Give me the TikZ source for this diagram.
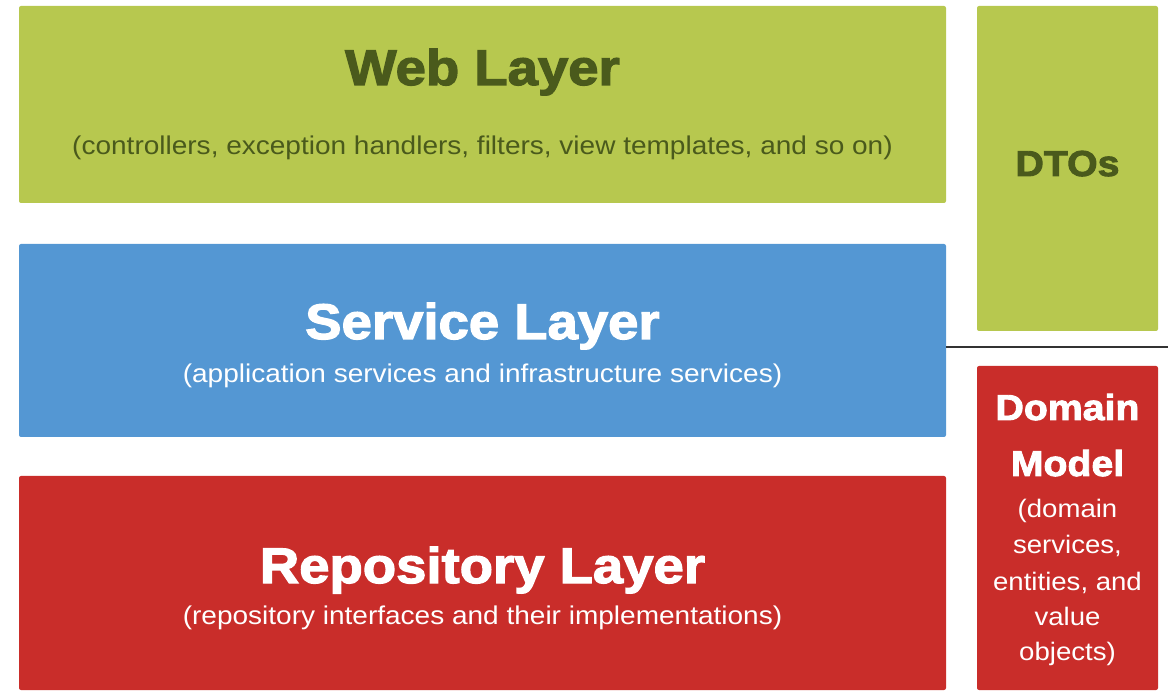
\documentclass[tikz,border=0pt]{standalone}
\usepackage{fontspec}
\setmainfont[FakeStretch=1.09, BoldFeatures={FakeBold=2.5}]{Liberation Sans}
\definecolor{layergreen}{HTML}{B7C84F}
\definecolor{layerblue}{HTML}{5497D3}
\definecolor{layerred}{HTML}{C92D2A}
\definecolor{olivetext}{HTML}{4A5A1C}
\tikzset{
    layer/.style={rectangle, rounded corners=2pt, inner sep=0pt, draw=none},
    bigtitle/.style={anchor=base, inner sep=0pt, font=\fontsize{50}{60}\selectfont\bfseries},
    smalltitle/.style={anchor=base, inner sep=0pt, font=\fontsize{36}{42}\selectfont\bfseries},
    subtext/.style={anchor=base, inner sep=0pt, font=\fontsize{25.7}{30}\selectfont},
    sidetext/.style={anchor=base, inner sep=0pt, font=\fontsize{25.3}{30}\selectfont}
}
\begin{document}
\begin{tikzpicture}[x=1pt, y=-1pt]
    \useasboundingbox (0,0) rectangle (1168,700);
    % layers on the left
    \node[layer, fill=layergreen, minimum width=927pt, minimum height=197pt] (web) at (482.5,104.5) {};
    \node[layer, fill=layerblue, minimum width=927pt, minimum height=193pt] (service) at (482.5,340.5) {};
    \node[layer, fill=layerred, minimum width=927pt, minimum height=214pt] (repo) at (482.5,583) {};
    % column on the right
    \node[layer, fill=layergreen, minimum width=181pt, minimum height=325pt] (dtos) at (1067.5,168.5) {};
    \node[layer, fill=layerred, minimum width=181pt, minimum height=324pt] (domain) at (1067.5,528) {};
    \coordinate (sepend) at (1168,347);
    \draw[line width=1.5pt, black!80] (service.east |- sepend) -- (sepend);

    \node[bigtitle, olivetext] (webtitle) at (482.5,85) {Web Layer};
    \node[subtext, olivetext] (websub) at (482.5,155) {(controllers, exception handlers, filters, view templates, and so on)};
    \node[bigtitle, white] (servicetitle) at (482.5,339) {Service Layer};
    \node[subtext, white] (servicesub) at (482.5,383) {(application services and infrastructure services)};
    \node[bigtitle, white] (repotitle) at (482.5,583) {Repository Layer};
    \node[subtext, white] (reposub) at (482.5,624) {(repository interfaces and their implementations)};

    \node[smalltitle, olivetext] (dtostitle) at (1067.5,176) {DTOs};
    \node[smalltitle, white] (domaintitle) at (1067.5,420) {Domain};
    \node[smalltitle, white] (modeltitle) at (1067.5,476) {Model};
    \foreach \y/\txt [count=\i] in {518/{(domain}, 553/{services,}, 590/{entities, and}, 625/{value}, 660/{objects)}}
        \node[sidetext, white] (domainsub\i) at (1067.5,\y) {\txt};
\end{tikzpicture}
\end{document}
